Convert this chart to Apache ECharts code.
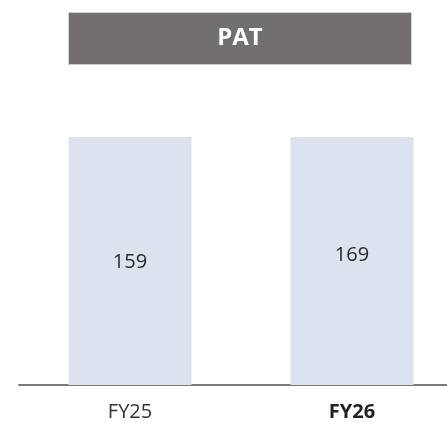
<!DOCTYPE html>
<html>
<head>
<meta charset="utf-8">
<script src="https://cdn.jsdelivr.net/npm/echarts@6/dist/echarts.min.js"></script>
<style>html,body{margin:0;padding:0;background:#fff;overflow:hidden;}#c{width:447px;height:423px;}</style>
</head>
<body>
<div id="c"></div>
<script>
const categories = ['FY25', 'FY26'];
const patValues = [159, 169];
const headerTitle = 'PAT';

const chart = echarts.init(document.getElementById('c'), null, {renderer: 'canvas'});
const font = '"Open Sans", "Noto Sans", sans-serif';
chart.setOption({
  animation: false,
  graphic: [{
    type: 'group',
    left: 68, top: 12,
    children: [
      {type: 'rect', shape: {x: 0, y: 0, width: 343, height: 52},
       style: {fill: '#736f6e', stroke: '#d0cfcf', lineWidth: 1}},
      {type: 'text', x: 171.5, y: 26,
       style: {text: headerTitle, fill: '#ffffff', font: 'bold 24px ' + font,
               textAlign: 'center', textVerticalAlign: 'middle'}}
    ]
  }],
  grid: {left: 19, right: -16, top: 137, bottom: 38, outerBoundsMode: 'none', containLabel: false},
  xAxis: {
    type: 'category', data: categories,
    axisLine: {show: true, lineStyle: {color: '#7a7a7a', width: 2}},
    axisTick: {show: false},
    axisLabel: {
      margin: 17, color: '#333333', fontSize: 20, fontFamily: font,
      formatter: (v, i) => i === categories.length - 1 ? '{b|' + v + '}' : v,
      rich: {b: {fontWeight: 'bold', fontSize: 20, color: '#222222', fontFamily: font}}
    }
  },
  yAxis: {type: 'value', min: 0, max: 161.2, show: false, splitLine: {show: false}},
  series: [{
    type: 'bar', data: patValues, barWidth: 123, clip: false,
    itemStyle: {color: 'rgba(0,0,0,0)'},
    showBackground: true,
    backgroundStyle: {color: '#dde3ee'},
    label: {show: true, position: 'inside', color: '#2a2a2a', fontSize: 20, fontFamily: font}
  }]
});
</script>
</body>
</html>
